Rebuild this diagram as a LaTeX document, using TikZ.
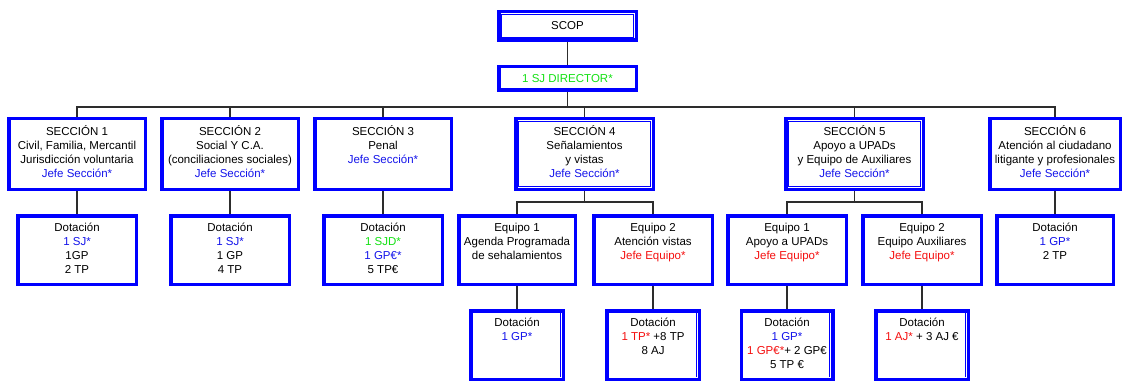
\documentclass[tikz,border=0pt]{standalone}
\usepackage{fontspec}
\setmainfont{Liberation Sans}
\definecolor{boxblue}{RGB}{0,0,255}
\definecolor{txtblue}{RGB}{20,20,235}
\definecolor{txtgreen}{RGB}{20,225,20}
\definecolor{txtred}{RGB}{245,15,15}
\definecolor{linegray}{RGB}{45,45,45}
\newcommand\bluetxt[1]{\textcolor{txtblue}{#1}}
\newcommand\greentxt[1]{\textcolor{txtgreen}{#1}}
\newcommand\redtxt[1]{\textcolor{txtred}{#1}}
\newcommand\padline{\\\strut}
\begin{document}
\begin{tikzpicture}[x=1pt,y=-1pt,
  box/.style={draw=boxblue, line width=3.5pt, fill=white, inner sep=0pt,
    align=center, font=\fontsize{11.5}{14}\selectfont},
  secbox/.style={box, minimum width=136.5pt, minimum height=70.5pt},
  dotbox/.style={box, minimum width=118.5pt, minimum height=68.5pt},
  lowbox/.style={box, minimum width=92.5pt, minimum height=68.5pt},
  wire/.style={draw=linegray, line width=1.1pt},
  innerline/.style={draw=boxblue, line width=0.9pt}]
\useasboundingbox (0,0) rectangle (1123,382);

% top of the chart
\node[box, minimum width=137.5pt, minimum height=28.5pt] (scop) at (567.5,26) {SCOP};
\node[box, minimum width=137.5pt, minimum height=23.5pt] (dir) at (567.5,78.5) {\greentxt{1 SJ DIRECTOR*}};

% sections
\node[secbox] (s1) at (77,154) {\strut SECCIÓN 1\\Civil, Familia, Mercantil\\Jurisdicción voluntaria\\\bluetxt{Jefe Sección*}\strut};
\node[secbox] (s2) at (230,154) {\strut SECCIÓN 2\\Social Y C.A.\\(conciliaciones sociales)\\\bluetxt{Jefe Sección*}\strut};
\node[secbox] (s3) at (383,154) {\strut SECCIÓN 3\\Penal\\\bluetxt{Jefe Sección*}\padline};
\node[secbox, minimum width=137.5pt] (s4) at (584.5,154) {\strut SECCIÓN 4\\Señalamientos\\y vistas\\\bluetxt{Jefe Sección*}\strut};
\node[secbox, minimum width=137.5pt] (s5) at (854.5,154) {\strut SECCIÓN 5\\Apoyo a UPADs\\y Equipo de Auxiliares\\\bluetxt{Jefe Sección*}\strut};
\node[secbox, minimum width=130.5pt] (s6) at (1055,154) {\strut SECCIÓN 6\\Atención al ciudadano\\litigante y profesionales\\\bluetxt{Jefe Sección*}\strut};

% first level below the sections
\node[dotbox] (d1) at (77,250) {\strut Dotación\\\bluetxt{1 SJ*}\\1GP\\2 TP\strut};
\node[dotbox] (d2) at (230,250) {\strut Dotación\\\bluetxt{1 SJ*}\\1 GP\\4 TP\strut};
\node[dotbox] (d3) at (383,250) {\strut Dotación\\\greentxt{1 SJD*}\\\bluetxt{1 GP€*}\\5 TP€\strut};
\node[dotbox, minimum width=116.5pt] (e41) at (517,250) {\strut Equipo 1\\Agenda Programada\\de sehalamientos\padline};
\node[dotbox] (e42) at (653,250) {\strut Equipo 2\\Atención vistas\\\redtxt{Jefe Equipo*}\padline};
\node[dotbox] (e51) at (787,250) {\strut Equipo 1\\Apoyo a UPADs\\\redtxt{Jefe Equipo*}\padline};
\node[dotbox] (e52) at (922,250) {\strut Equipo 2\\Equipo Auxiliares\\\redtxt{Jefe Equipo*}\padline};
\node[dotbox, minimum width=116.5pt] (d6) at (1055,250) {\strut Dotación\\\bluetxt{1 GP*}\\2 TP\padline};

% staffing of the teams
\node[lowbox] (f41) at (517,345) {\strut Dotación\\\bluetxt{1 GP*}\padline\padline};
\node[lowbox] (f42) at (653,345) {\strut Dotación\\\redtxt{1 TP*} +8 TP\\8 AJ\padline};
\node[lowbox, minimum width=91.5pt] (f51) at (787,345) {\strut Dotación\\\bluetxt{1 GP*}\\\redtxt{1 GP€*}+ 2 GP€\\5 TP €\strut};
\node[lowbox] (f52) at (922,345) {\strut Dotación\\\redtxt{1 AJ*} + 3 AJ €\padline\padline};

% double borders
\foreach \n in {scop,s4,s5}
  \draw[innerline] ([shift={(4.5,4.5)}]\n.north west) rectangle ([shift={(-4.5,-4.5)}]\n.south east);
\foreach \n in {f41,f42,f51,f52}
  \draw[innerline] ([shift={(-5,4)}]\n.north east) -- ([shift={(-5,-4)}]\n.south east);

% connectors
\coordinate (bus) at (567.5,107);
\coordinate (b4) at (584.5,202);
\coordinate (b5) at (854.5,202);
\draw[wire] (scop.south) -- (dir.north);
\draw[wire] (dir.south) -- (bus);
\foreach \s in {s1,s2,s3,s4,s5,s6}
  \draw[wire] (bus) -| (\s.north);
\draw[wire] (s1.south) -- (d1.north);
\draw[wire] (s2.south) -- (d2.north);
\draw[wire] (s3.south) -- (d3.north);
\draw[wire] (s6.south) -- (d6.north);
\draw[wire] (s4.south) -- (b4);
\draw[wire] (b4) -| (e41.north);
\draw[wire] (b4) -| (e42.north);
\draw[wire] (s5.south) -- (b5);
\draw[wire] (b5) -| (e51.north);
\draw[wire] (b5) -| (e52.north);
\draw[wire] (e41.south) -- (f41.north);
\draw[wire] (e42.south) -- (f42.north);
\draw[wire] (e51.south) -- (f51.north);
\draw[wire] (e52.south) -- (f52.north);
\end{tikzpicture}
\end{document}
